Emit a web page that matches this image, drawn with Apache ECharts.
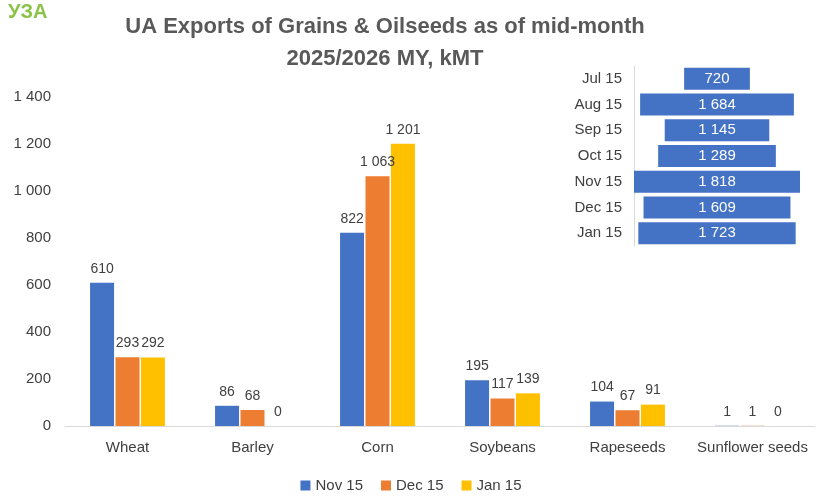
<!DOCTYPE html>
<html><head><meta charset="utf-8">
<script src="https://cdn.jsdelivr.net/npm/echarts@6/dist/echarts.min.js"></script>
<style>html,body{margin:0;padding:0;background:#fff}#c{width:822px;height:504px}</style>
</head><body><div id="c"></div>
<script>
const categories = ['Wheat','Barley','Corn','Soybeans','Rapeseeds','Sunflower seeds'];
const nov15 = [610, 86, 822, 195, 104, 1];
const dec15 = [293, 68, 1063, 117, 67, 1];
const jan15 = [292, 0, 1201, 139, 91, 0];
const months = ['Jul 15','Aug 15','Sep 15','Oct 15','Nov 15','Dec 15','Jan 15'];
const monthly = [720, 1684, 1145, 1289, 1818, 1609, 1723];

const fmt = v => String(v).replace(/\B(?=(\d{3})+(?!\d))/g, ' ');
const maxM = Math.max(...monthly);
const offsets = monthly.map(v => (maxM - v) / 2);
const lbl = {show:true, position:'top', distance:7, color:'#404040', fontSize:14, fontFamily:'Liberation Sans, Arial', formatter:p=>fmt(p.value)};
const chart = echarts.init(document.getElementById('c'));
chart.setOption({
  animation:false,
  textStyle:{fontFamily:'Liberation Sans, Arial'},
  title:{text:'UA Exports of Grains & Oilseeds as of mid-month\n2025/2026 MY, kMT', left:380, top:6, textAlign:'center',
    textStyle:{fontSize:22, fontWeight:'bold', color:'#595959', lineHeight:32}},
  graphic:[{type:'text', left:8, top:2, style:{text:'УЗА', fontSize:20, fontWeight:'bold', fill:'#8bc34a'}}],
  legend:{bottom:6, left:'center', itemWidth:10, itemHeight:10, icon:'rect', itemGap:18,
    textStyle:{fontSize:15, color:'#404040'}, data:['Nov 15','Dec 15','Jan 15']},
  grid:[{left:65, right:7, top:97, bottom:78},
        {left:634, width:166, top:66, height:180}],
  xAxis:[{type:'category', data:categories, gridIndex:0,
      axisLine:{lineStyle:{color:'#d9d9d9'}}, axisTick:{show:false},
      axisLabel:{fontSize:15, color:'#404040', margin:14, interval:0}},
    {type:'value', gridIndex:1, min:0, max:maxM, show:false}],
  yAxis:[{type:'value', gridIndex:0, min:0, max:1400, interval:200, splitLine:{show:false},
      axisLabel:{fontSize:15, color:'#404040', formatter:fmt, margin:14}},
    {type:'category', gridIndex:1, data:months, inverse:true,
      axisLine:{show:true, lineStyle:{color:'#d9d9d9'}}, axisTick:{show:false},
      axisLabel:{fontSize:15, color:'#404040', margin:12}}],
  series:[
    {name:'Nov 15', type:'bar', data:nov15, barWidth:24, barGap:'6%', itemStyle:{color:'#4472C4'}, label:lbl},
    {name:'Dec 15', type:'bar', data:dec15, barWidth:24, barGap:'6%', itemStyle:{color:'#ED7D31'}, label:lbl},
    {name:'Jan 15', type:'bar', data:jan15, barWidth:24, barGap:'6%', itemStyle:{color:'#FFC000'}, label:lbl},
    {type:'bar', xAxisIndex:1, yAxisIndex:1, stack:'m', data:offsets, itemStyle:{color:'transparent'}, barWidth:22, silent:true},
    {type:'bar', xAxisIndex:1, yAxisIndex:1, stack:'m', data:monthly, barWidth:22, itemStyle:{color:'#4472C4'},
      label:{show:true, position:'inside', color:'#fff', fontSize:15, formatter:p=>fmt(p.value)}}
  ]
});
</script></body></html>
